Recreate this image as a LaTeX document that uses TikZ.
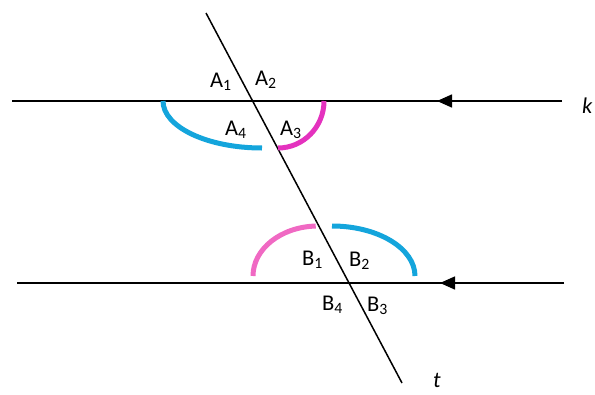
\documentclass[tikz,border=0pt]{standalone}
\usepackage{fontspec}
\setmainfont{Carlito}
\usetikzlibrary{arrows.meta}
\definecolor{arcblue}{RGB}{20,165,220}
\definecolor{arcmag}{RGB}{228,50,190}
\definecolor{arcpink}{RGB}{240,105,195}
\tikzset{
  thinline/.style={line width=1.5pt, black},
  arrowline/.style={line width=1.5pt, black, -{Triangle[length=15pt,width=13pt]}},
  arcstroke/.style={line width=5pt},
  lbl/.style={anchor=base west, inner sep=0pt, font=\fontsize{22.5}{24}\selectfont},
}
\begin{document}
\begin{tikzpicture}[x=1pt,y=1pt]
\useasboundingbox (0,0) rectangle (595,-394);
% line k
\coordinate (kL) at (12,-101);
\coordinate (kR) at (562,-101);
\coordinate (kA) at (437,-101);
\draw[thinline] (kL) -- (kR);
\draw[arrowline] (kR) -- (kA);
% lower line
\coordinate (lL) at (17,-283);
\coordinate (lR) at (564,-283);
\coordinate (lA) at (440,-283);
\draw[thinline] (lL) -- (lR);
\draw[arrowline] (lR) -- (lA);
% transversal t
\coordinate (tT) at (206,-13);
\coordinate (tB) at (402,-383);
\draw[thinline] (tT) -- (tB);
% arcs at A
\draw[arcstroke, arcblue] (163,-101) arc[start angle=180, end angle=270, x radius=99, y radius=47];
\draw[arcstroke, arcmag] (278,-148) arc[start angle=270, end angle=360, x radius=46, y radius=47];
% arcs at B
\draw[arcstroke, arcpink] (253,-276) arc[start angle=180, end angle=92, x radius=65, y radius=50];
\draw[arcstroke, arcblue] (332,-226) arc[start angle=90, end angle=0, x radius=83, y radius=50];
% labels
\node[lbl] (a1) at (210,-87) {A\textsubscript{1}};
\node[lbl] (a2) at (255,-85) {A\textsubscript{2}};
\node[lbl] (a4) at (225,-135) {A\textsubscript{4}};
\node[lbl] (a3) at (280,-135) {A\textsubscript{3}};
\node[lbl] (b1) at (302,-265) {B\textsubscript{1}};
\node[lbl] (b2) at (349,-266) {B\textsubscript{2}};
\node[lbl] (b4) at (322,-310) {B\textsubscript{4}};
\node[lbl] (b3) at (367,-311) {B\textsubscript{3}};
\node[lbl] (k) at (582,-113) {\itshape k};
\node[lbl] (t) at (433,-387) {\itshape t};
\end{tikzpicture}
\end{document}
